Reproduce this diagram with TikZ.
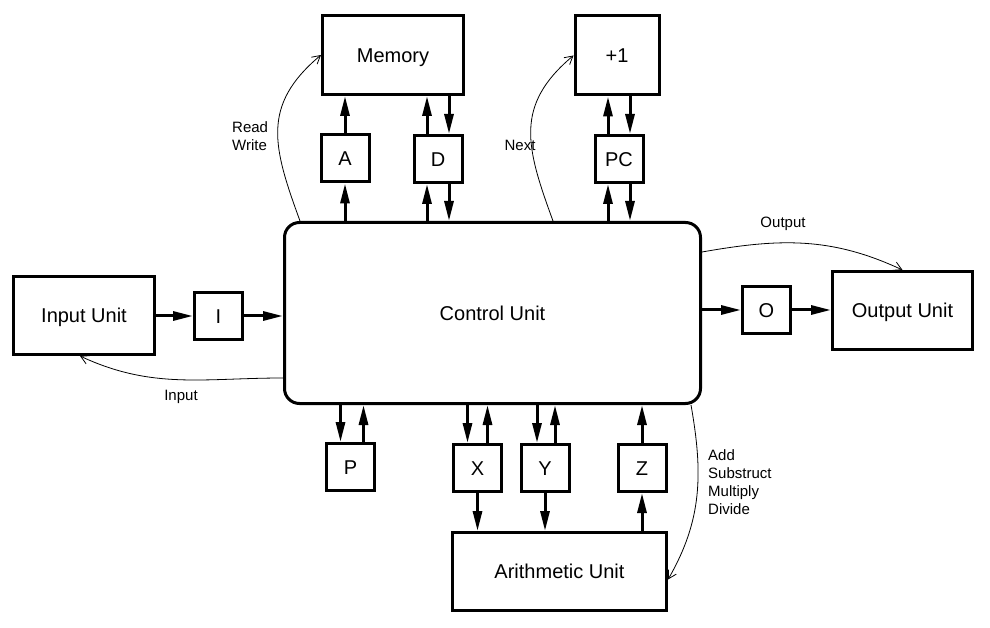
\documentclass[tikz,border=0pt]{standalone}
\usepackage{fontspec}
\setmainfont{Liberation Sans}
\usetikzlibrary{positioning,arrows.meta}
\tikzset{unit/.style={draw,line width=3pt,inner sep=0pt,minimum width=141pt,minimum height=79pt,text height=18pt,text depth=3.6pt,font=\fontsize{20}{24}\selectfont},
reg/.style={unit,minimum width=48pt,minimum height=47pt},
bus/.style={line width=3pt,-{Triangle[length=20pt,width=9pt]}},
ctl/.style={line width=0.8pt,-{Straight Barb[length=8pt,width=9pt]}},
lbl/.style={font=\fontsize{15}{18}\selectfont,align=left,inner sep=0pt}}

\begin{document}
\begin{tikzpicture}[x=1pt,y=1pt]
\useasboundingbox (0,0) rectangle (990,627);
\node[unit,rounded corners=15pt,minimum width=416pt,minimum height=181pt] (cu) at (492.5,314) {Control Unit};
\node[unit] (mem) at (393,572) {Memory};
\node[unit,minimum width=84pt] (inc) at (617,571.5) {+1};
\node[reg] (a) at (345,468.5) {A};
\node[reg] (d) at (438,468) {D};
\node[reg] (pc) at (619,468) {PC};
\node[unit,minimum height=78pt] (inu) at (84,311.5) {Input Unit};
\node[reg] (i) at (218.5,311) {I};
\node[reg] (o) at (766.5,317) {O};
\node[unit,minimum width=140pt,minimum height=78pt] (outu) at (902.5,316.5) {Output Unit};
\node[reg] (p) at (350.5,160) {P};
\node[reg] (x) at (477.5,159) {X};
\node[reg] (y) at (545,159) {Y};
\node[reg] (z) at (642,159) {Z};
\node[unit,minimum width=214pt,minimum height=78pt] (au) at (559.5,55.5) {Arithmetic Unit};

\draw[bus] (a.south |- cu.north) -- (a.south);
\draw[bus] (a.north) -- (a.north |- mem.south);
\draw[bus] ([xshift=-11pt]d.south |- cu.north) -- ([xshift=-11pt]d.south);
\draw[bus] ([xshift=-11pt]d.north) -- ([xshift=-11pt]d.north |- mem.south);
\draw[bus] ([xshift=11pt]d.north |- mem.south) -- ([xshift=11pt]d.north);
\draw[bus] ([xshift=11pt]d.south) -- ([xshift=11pt]d.south |- cu.north);
\draw[bus] ([xshift=-11pt]pc.south |- cu.north) -- ([xshift=-11pt]pc.south);
\draw[bus] ([xshift=-11pt]pc.north) -- ([xshift=-11pt]pc.north |- inc.south);
\draw[bus] ([xshift=11pt]pc.north |- inc.south) -- ([xshift=11pt]pc.north);
\draw[bus] ([xshift=11pt]pc.south) -- ([xshift=11pt]pc.south |- cu.north);
\draw[bus] (inu.east |- i) -- (i.west);
\draw[bus] (i.east) -- (i.east -| cu.west);
\draw[bus] (cu.east |- o) -- (o.west);
\draw[bus] (o.east) -- (o.east -| outu.west);
\draw[bus] ([xshift=-10pt]p.north |- cu.south) -- ([xshift=-10pt]p.north);
\draw[bus] ([xshift=13pt]p.north) -- ([xshift=13pt]p.north |- cu.south);
\draw[bus] ([xshift=-10pt]x.north |- cu.south) -- ([xshift=-10pt]x.north);
\draw[bus] ([xshift=10pt]x.north) -- ([xshift=10pt]x.north |- cu.south);
\draw[bus] (x.south) -- (x.south |- au.north);
\draw[bus] ([xshift=-8pt]y.north |- cu.south) -- ([xshift=-8pt]y.north);
\draw[bus] ([xshift=10pt]y.north) -- ([xshift=10pt]y.north |- cu.south);
\draw[bus] (y.south) -- (y.south |- au.north);
\draw[bus] (z.south |- au.north) -- (z.south);
\draw[bus] (z.north) -- (z.north |- cu.south);

\draw[ctl] ([xshift=17pt]cu.north west) to[out=110,in=220,looseness=1.2] (mem.west);
\draw[ctl] ([xshift=270pt]cu.north west) to[out=110,in=220,looseness=1.2] (inc.west);
\draw[ctl] ([yshift=-31pt]cu.north east) to[out=10,in=155] (outu.north);
\draw[ctl] ([yshift=27pt]cu.south west) to[out=180,in=-25] ([xshift=-4pt]inu.south);
\draw[ctl] ([xshift=-11pt]cu.south east) to[out=-80,in=60] ([yshift=-8pt]au.east);

\node[lbl,anchor=west] (rw) at (232,491) {Read\\Write};
\node[lbl] (nx) at (520,482) {Next};
\node[lbl] (ol) at (783,403) {Output};
\node[lbl] (il) at (181,230) {Input};
\node[lbl,anchor=west] (ops) at (708,145) {Add\\Substruct\\Multiply\\Divide};
\end{tikzpicture}
\end{document}
